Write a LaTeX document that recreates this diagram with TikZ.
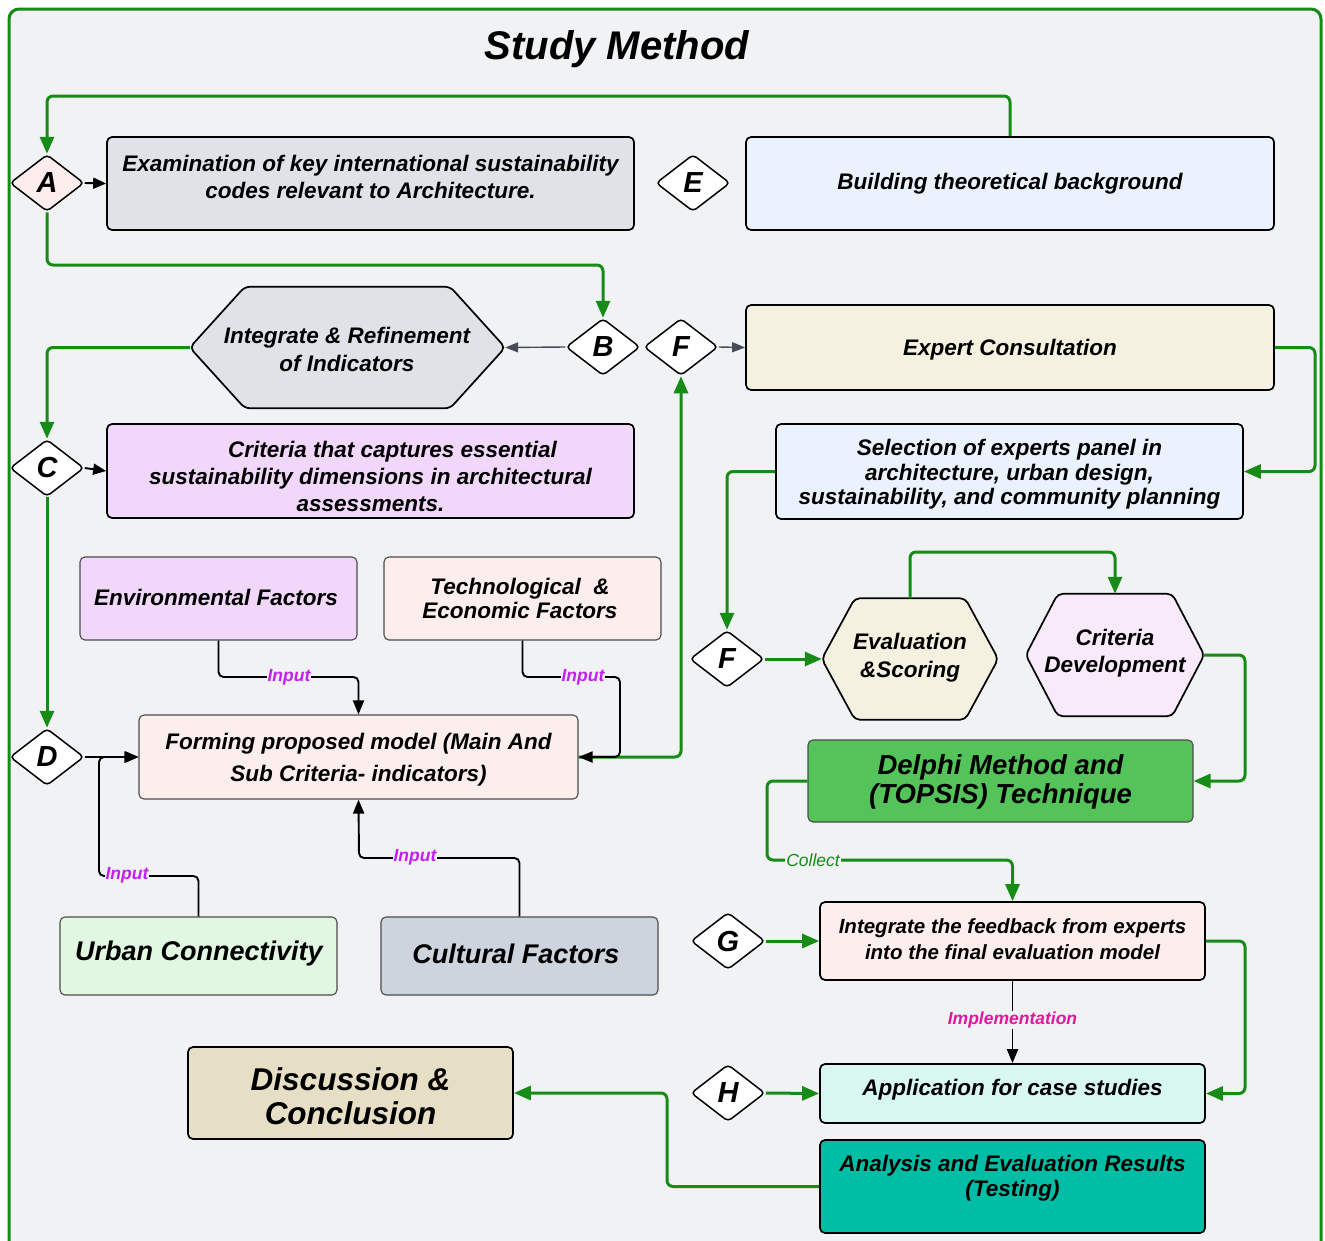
\documentclass[tikz,border=0pt]{standalone}
\usepackage{fontspec}
\setmainfont{Liberation Sans}
\usetikzlibrary{arrows.meta,shapes.geometric,calc}
\newcommand\myfs[2]{\fontsize{#1}{#2}\selectfont\bfseries\itshape}
\definecolor{lgreen}{RGB}{22,140,22}
\definecolor{bgc}{RGB}{241,242,244}
\definecolor{gray1}{RGB}{223,226,230}
\definecolor{lblue}{RGB}{234,243,253}
\definecolor{cream}{RGB}{245,241,225}
\definecolor{lpurp}{RGB}{241,216,250}
\definecolor{lpink}{RGB}{252,238,237}
\definecolor{lpurp2}{RGB}{248,234,251}
\definecolor{dgreen}{RGB}{84,195,90}
\definecolor{lmint}{RGB}{225,247,225}
\definecolor{slate}{RGB}{206,212,221}
\definecolor{cyanl}{RGB}{216,247,241}
\definecolor{teal1}{RGB}{0,190,165}
\definecolor{beige}{RGB}{231,223,197}
\definecolor{inputc}{RGB}{196,30,243}
\definecolor{implc}{RGB}{224,24,158}
\definecolor{arrgray}{RGB}{69,76,87}
\begin{document}
\begin{tikzpicture}[x=1pt,y=-1pt,
  dia/.style={diamond, draw=black, line width=1.5pt, fill=white, minimum width=74pt, minimum height=57pt, inner sep=0pt, aspect=1.3, rounded corners=4pt, font=\myfs{29}{30}},
  box/.style={draw=black, line width=1.7pt, rounded corners=5pt, inner sep=0pt},
  sbox/.style={draw=black!70, line width=1.1pt, rounded corners=5pt, inner sep=0pt},
  geo/.style={inner sep=0pt, draw=none},
  hexs/.style={draw=black, line width=1.7pt, rounded corners=5pt},
  txt/.style={align=center, inner sep=0pt, font=\myfs{22.5}{27}, yshift=-3pt},
  gline/.style={draw=lgreen, line width=3pt, rounded corners=6pt},
  garr/.style={gline, -{Triangle[length=17pt,width=14pt]}},
  barr/.style={draw=black, line width=1.9pt, rounded corners=5pt, -{Triangle[length=14pt,width=11pt]}},
  sarr/.style={draw=black, line width=1.9pt, -{Triangle[length=13pt,width=11pt]}},
  gyarr/.style={draw=arrgray, line width=1.4pt, -{Triangle[length=13pt,width=10pt]}},
  lab/.style={font=\myfs{17.5}{18}, text=inputc, fill=bgc, inner sep=1pt},
]
\useasboundingbox (0,0) rectangle (1325,1240);
\fill[white] (0,0) rectangle (1325,1240);
\begin{scope}
\clip (0,0) rectangle (1325,1240);
\draw[draw=lgreen, line width=3pt, fill=bgc, rounded corners=10pt] (9,9) rectangle (1321,1280);
\end{scope}

\node[font=\myfs{40}{42}, inner sep=0pt] (title) at (617,49) {Study Method};

% helper coordinates
\coordinate (cTop) at (0,96);
\coordinate (cAB) at (0,265);
\coordinate (cR) at (1315,0);
\coordinate (cR2) at (1245,0);
\coordinate (cT) at (0,552);
\coordinate (cC) at (767,860);
\coordinate (cL) at (667,0);
\coordinate (c677) at (0,677);
\coordinate (cTech) at (620,677);
\coordinate (cUrb) at (99,876);
\coordinate (cCult) at (359,858);

% row 1
\node[dia, fill={rgb,255:red,253;green,237;blue,236}] (A) at (47,183) {A};
\node[box, fill=gray1, minimum width=527pt, minimum height=93pt] (exam) at (370.5,183.5) {};
\node[txt] (examT) at (370.5,173.5) {Examination of key international sustainability\\codes relevant to Architecture.};
\node[dia] (E) at (693,183) {E};
\node[box, fill=lblue, minimum width=528pt, minimum height=93pt] (build) at (1010,183.5) {};
\node[txt] (buildT) at (1010,181) {Building theoretical background};

% row 2
\node[geo, minimum width=315pt, minimum height=121pt] (hex) at (347.5,347.5) {};
\draw[hexs, fill=gray1] (hex.west) -- ([xshift=55pt]hex.north west) -- ([xshift=-55pt]hex.north east) -- (hex.east) -- ([xshift=-55pt]hex.south east) -- ([xshift=55pt]hex.south west) -- cycle;
\node[txt, font=\myfs{22.5}{28}] (hexT) at (347,346) {Integrate \& Refinement\\of Indicators};
\node[dia] (B) at (603,347) {B};
\node[dia] (F) at (681,347) {F};
\node[box, fill=cream, minimum width=528pt, minimum height=85pt] (expert) at (1010,347.5) {};
\node[txt] (expertT) at (1010,347) {Expert Consultation};

% row 3
\node[dia] (C) at (47,468) {C};
\node[box, fill=lpurp, minimum width=527pt, minimum height=94pt] (crit) at (370.5,471) {};
\node[txt] (critT) at (370.5,473) {\hspace*{44pt}Criteria that captures essential\\sustainability dimensions in architectural\\assessments.};
\node[box, fill=lblue, minimum width=467pt, minimum height=95pt] (sel) at (1009.5,471.5) {};
\node[txt, font=\myfs{22.5}{24.5}] (selT) at (1009.5,471.5) {Selection of experts panel in\\architecture, urban design,\\sustainability, and community planning};

% row 4
\node[sbox, fill=lpurp, minimum width=277pt, minimum height=83pt] (env) at (218.5,598.5) {};
\node[txt] (envT) at (216,594) {Environmental Factors};
\node[sbox, fill=lpink, minimum width=277pt, minimum height=83pt] (tech) at (522.5,598.5) {};
\node[txt, font=\myfs{22.5}{24}] (techT) at (520,595) {Technological~ \&\\Economic Factors};
\node[dia] (F2) at (727,659) {F};
\node[geo, minimum width=176pt, minimum height=121pt] (eval) at (910,659) {};
\draw[hexs, fill=cream] (eval.west) -- ([xshift=33pt]eval.north west) -- ([xshift=-33pt]eval.north east) -- (eval.east) -- ([xshift=-33pt]eval.south east) -- ([xshift=33pt]eval.south west) -- cycle;
\node[txt, font=\myfs{22.5}{28}] (evalT) at (910,655) {Evaluation\\\&Scoring};
\node[geo, minimum width=178pt, minimum height=122pt] (crdev) at (1115,655) {};
\draw[hexs, fill=lpurp2] (crdev.west) -- ([xshift=32pt]crdev.north west) -- ([xshift=-32pt]crdev.north east) -- (crdev.east) -- ([xshift=-32pt]crdev.south east) -- ([xshift=32pt]crdev.south west) -- cycle;
\node[txt] (crdevT) at (1115,650.5) {Criteria\\Development};

% row 5
\node[dia] (D) at (47,757) {D};
\node[sbox, fill=lpink, minimum width=439pt, minimum height=84pt] (form) at (358.5,757) {};
\node[txt, font=\myfs{22.5}{32}] (formT) at (358.5,757) {Forming proposed model (Main And\\Sub Criteria- indicators)};
\node[sbox, fill=dgreen, minimum width=385pt, minimum height=82pt] (delphi) at (1000.5,781) {};
\node[txt, font=\myfs{27.5}{29}] (delphiT) at (1000.5,778.5) {Delphi Method and\\(TOPSIS) Technique};

% row 6
\node[sbox, fill=lmint, minimum width=277pt, minimum height=78pt] (urban) at (198.5,956) {};
\node[txt, font=\myfs{27}{28}] (urbanT) at (199,951) {Urban Connectivity};
\node[sbox, fill=slate, minimum width=277pt, minimum height=78pt] (cult) at (519.5,956) {};
\node[txt, font=\myfs{27}{28}] (cultT) at (516,951) {Cultural Factors};
\node[dia] (G) at (728,941) {G};
\node[box, fill=lpink, minimum width=385pt, minimum height=78pt] (integ) at (1012.5,941) {};
\node[txt, font=\myfs{20.5}{26}] (integT) at (1012.5,936) {Integrate the feedback from experts\\into the final evaluation model};

% row 7
\node[box, fill=beige, minimum width=325pt, minimum height=92pt] (disc) at (350.5,1093) {};
\node[txt, font=\myfs{31.5}{34}] (discT) at (350.5,1093) {Discussion \&\\Conclusion};
\node[dia] (H) at (728,1093) {H};
\node[box, fill=cyanl, minimum width=385pt, minimum height=59pt] (app) at (1012.5,1093.5) {};
\node[txt] (appT) at (1012.5,1087) {Application for case studies};
\node[box, fill=teal1, minimum width=385pt, minimum height=93pt] (anal) at (1012.5,1186.5) {};
\node[txt, font=\myfs{22.5}{25}] (analT) at (1012.5,1175.5) {Analysis and Evaluation Results\\(Testing)};

% green connectors
\draw[garr] (build.north) -- (build.north |- cTop) -| (A.north);
\draw[garr] (A.south) -- (A.south |- cAB) -| (B.north);
\draw[garr] (hex.west) -| (C.north);
\draw[garr] (C.south) -- (D.north);
\draw[garr] (expert.east) -- (expert.east -| cR) |- (sel.east);
\draw[garr] (sel.west) -| (F2.north);
\draw[garr] (F2.east) -- (eval.west);
\draw[garr] (eval.north) -- (eval.north |- cT) -| (crdev.north);
\draw[garr] (crdev.east) -- (crdev.east -| cR2) |- (delphi.east);
\draw[garr] (delphi.west) -| (cC) -| (integ.north);
\draw[garr] (G.east) -- (integ.west);
\draw[garr] (H.east) -- (app.west);
\draw[garr] (integ.east) -- (integ.east -| cR2) |- (app.east);
\draw[garr] (anal.west) -- (anal.west -| cL) |- (disc.east);
\draw[garr] (form.east) -| (F.south);

% black / gray connectors
\draw[sarr] (A.east) -- (exam.west);
\draw[sarr] (C.east) -- (crit.west);
\draw[gyarr] (B.west) -- (hex.east);
\draw[gyarr] (F.east) -- (expert.west);
\draw[sarr] (D.east) -- (form.west);
\draw[barr] (env.south) -- (env.south |- c677) -| (form.north);
\draw[barr] (tech.south) |- (cTech) |- (form.east);
\draw[barr] (urban.north) |- (cUrb) |- (form.west);
\draw[barr] (cult.north) |- (cCult) -- (form.south);
\draw[barr] (integ.south) -- (app.north);

% labels
\node[lab] (l1) at (289,677) {Input};
\node[lab] (l2) at (583,677) {Input};
\node[lab] (l3) at (127,875) {Input};
\node[lab] (l4) at (415,857) {Input};
\node[lab, font=\fontsize{17.5}{18}\selectfont\itshape, text=lgreen] (l5) at (813,860) {Collect};
\node[lab, text=implc] (l6) at (1012.5,1020) {Implementation};
\end{tikzpicture}
\end{document}
